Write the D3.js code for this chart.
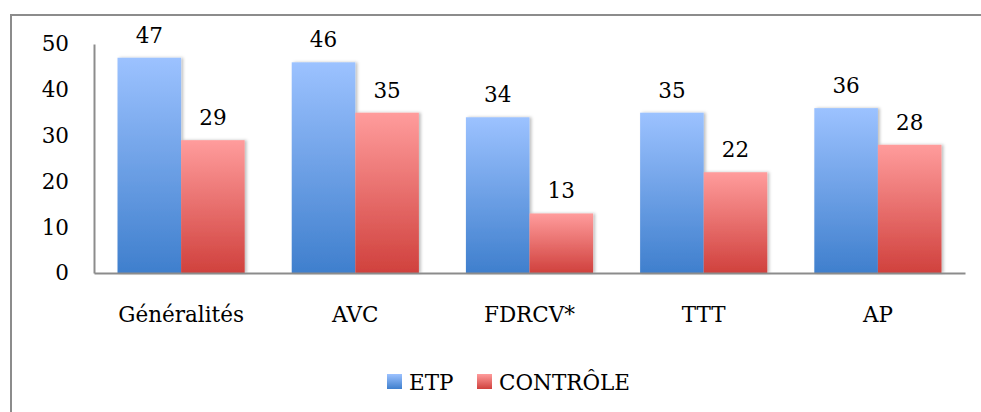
<!DOCTYPE html>
<html><head><meta charset="utf-8">
<script src="https://cdn.jsdelivr.net/npm/d3@7"></script>
<style>html,body{margin:0;padding:0;background:#fff;}svg{display:block;}</style>
</head><body>
<svg id="c" width="981" height="412"></svg>
<script>
const categories = ["Généralités", "AVC", "FDRCV*", "TTT", "AP"];
const seriesNames = ["ETP", "CONTRÔLE"];
const etp = [47, 46, 34, 35, 36];
const controle = [29, 35, 13, 22, 28];
const yTicks = [0, 10, 20, 30, 40, 50];

const svg = d3.select("#c");
const font = "'DejaVu Serif', 'Liberation Serif', serif";
const fs = 21.5;
const m = {left: 94, right: 965, top: 44, bottom: 273};

const defs = svg.append("defs");
function grad(id, top, bottom) {
  const g = defs.append("linearGradient").attr("id", id).attr("x1", 0).attr("y1", 0).attr("x2", 0).attr("y2", 1);
  g.append("stop").attr("offset", "0%").attr("stop-color", top);
  g.append("stop").attr("offset", "100%").attr("stop-color", bottom);
}
grad("gBlue", "#9cc2ff", "#3f7fcd");
grad("gRed", "#ff9c9c", "#d0413d");
const f = defs.append("filter").attr("id", "sh").attr("x", "-10%").attr("y", "-10%").attr("width", "130%").attr("height", "120%");
f.append("feDropShadow").attr("dx", 2).attr("dy", 0).attr("stdDeviation", 1.5).attr("flood-color", "#000").attr("flood-opacity", 0.25);

// outer frame
svg.append("path").attr("d", "M11,420 L11,15 L990,15").attr("fill", "none").attr("stroke", "#8c8c8c").attr("stroke-width", 2);

const x = d3.scaleBand().domain(categories).range([m.left, m.right]).paddingInner(0.27).paddingOuter(0.135);
const xs = d3.scaleBand().domain(seriesNames).range([0, x.bandwidth()]);
const y = d3.scaleLinear().domain([0, 50]).range([m.bottom, m.top]);

const data = categories.map((c, i) => ({c, vals: [etp[i], controle[i]]}));
const fills = ["url(#gBlue)", "url(#gRed)"];

const g = svg.append("g");
data.forEach(d => {
  d.vals.forEach((v, j) => {
    g.append("rect")
      .attr("x", x(d.c) + xs(seriesNames[j]))
      .attr("y", y(v))
      .attr("width", xs.bandwidth())
      .attr("height", y(0) - y(v))
      .attr("fill", fills[j])
      .attr("filter", "url(#sh)");
  });
});
data.forEach(d => {
  d.vals.forEach((v, j) => {
    g.append("text")
      .attr("x", x(d.c) + xs(seriesNames[j]) + xs.bandwidth() / 2)
      .attr("y", y(v) - 15)
      .attr("text-anchor", "middle")
      .attr("font-family", font).attr("font-size", fs).attr("fill", "#000")
      .text(v);
  });
});

// axes
const yAxis = d3.axisLeft(y).tickValues(yTicks).tickSize(0).tickPadding(25);
const ya = svg.append("g").attr("transform", `translate(${m.left},0)`).call(yAxis);
ya.select(".domain").attr("stroke", "#8c8c8c").attr("stroke-width", 2);
ya.selectAll("text").attr("font-family", font).attr("font-size", fs).attr("fill", "#000");

const xAxis = d3.axisBottom(x).tickSize(0).tickPadding(34);
const xa = svg.append("g").attr("transform", `translate(0,${m.bottom})`).call(xAxis);
xa.select(".domain").attr("stroke", "#8c8c8c").attr("stroke-width", 2);
xa.selectAll("text").attr("font-family", font).attr("font-size", fs).attr("fill", "#000");

// legend
const legend = [{name: seriesNames[0], fill: fills[0], x: 387}, {name: seriesNames[1], fill: fills[1], x: 477}];
legend.forEach(l => {
  svg.append("rect").attr("x", l.x).attr("y", 374).attr("width", 15).attr("height", 15).attr("fill", l.fill);
  svg.append("text").attr("x", l.x + 22).attr("y", 390).attr("font-family", font).attr("font-size", fs).attr("fill", "#000").text(l.name);
});
</script>
</body></html>
